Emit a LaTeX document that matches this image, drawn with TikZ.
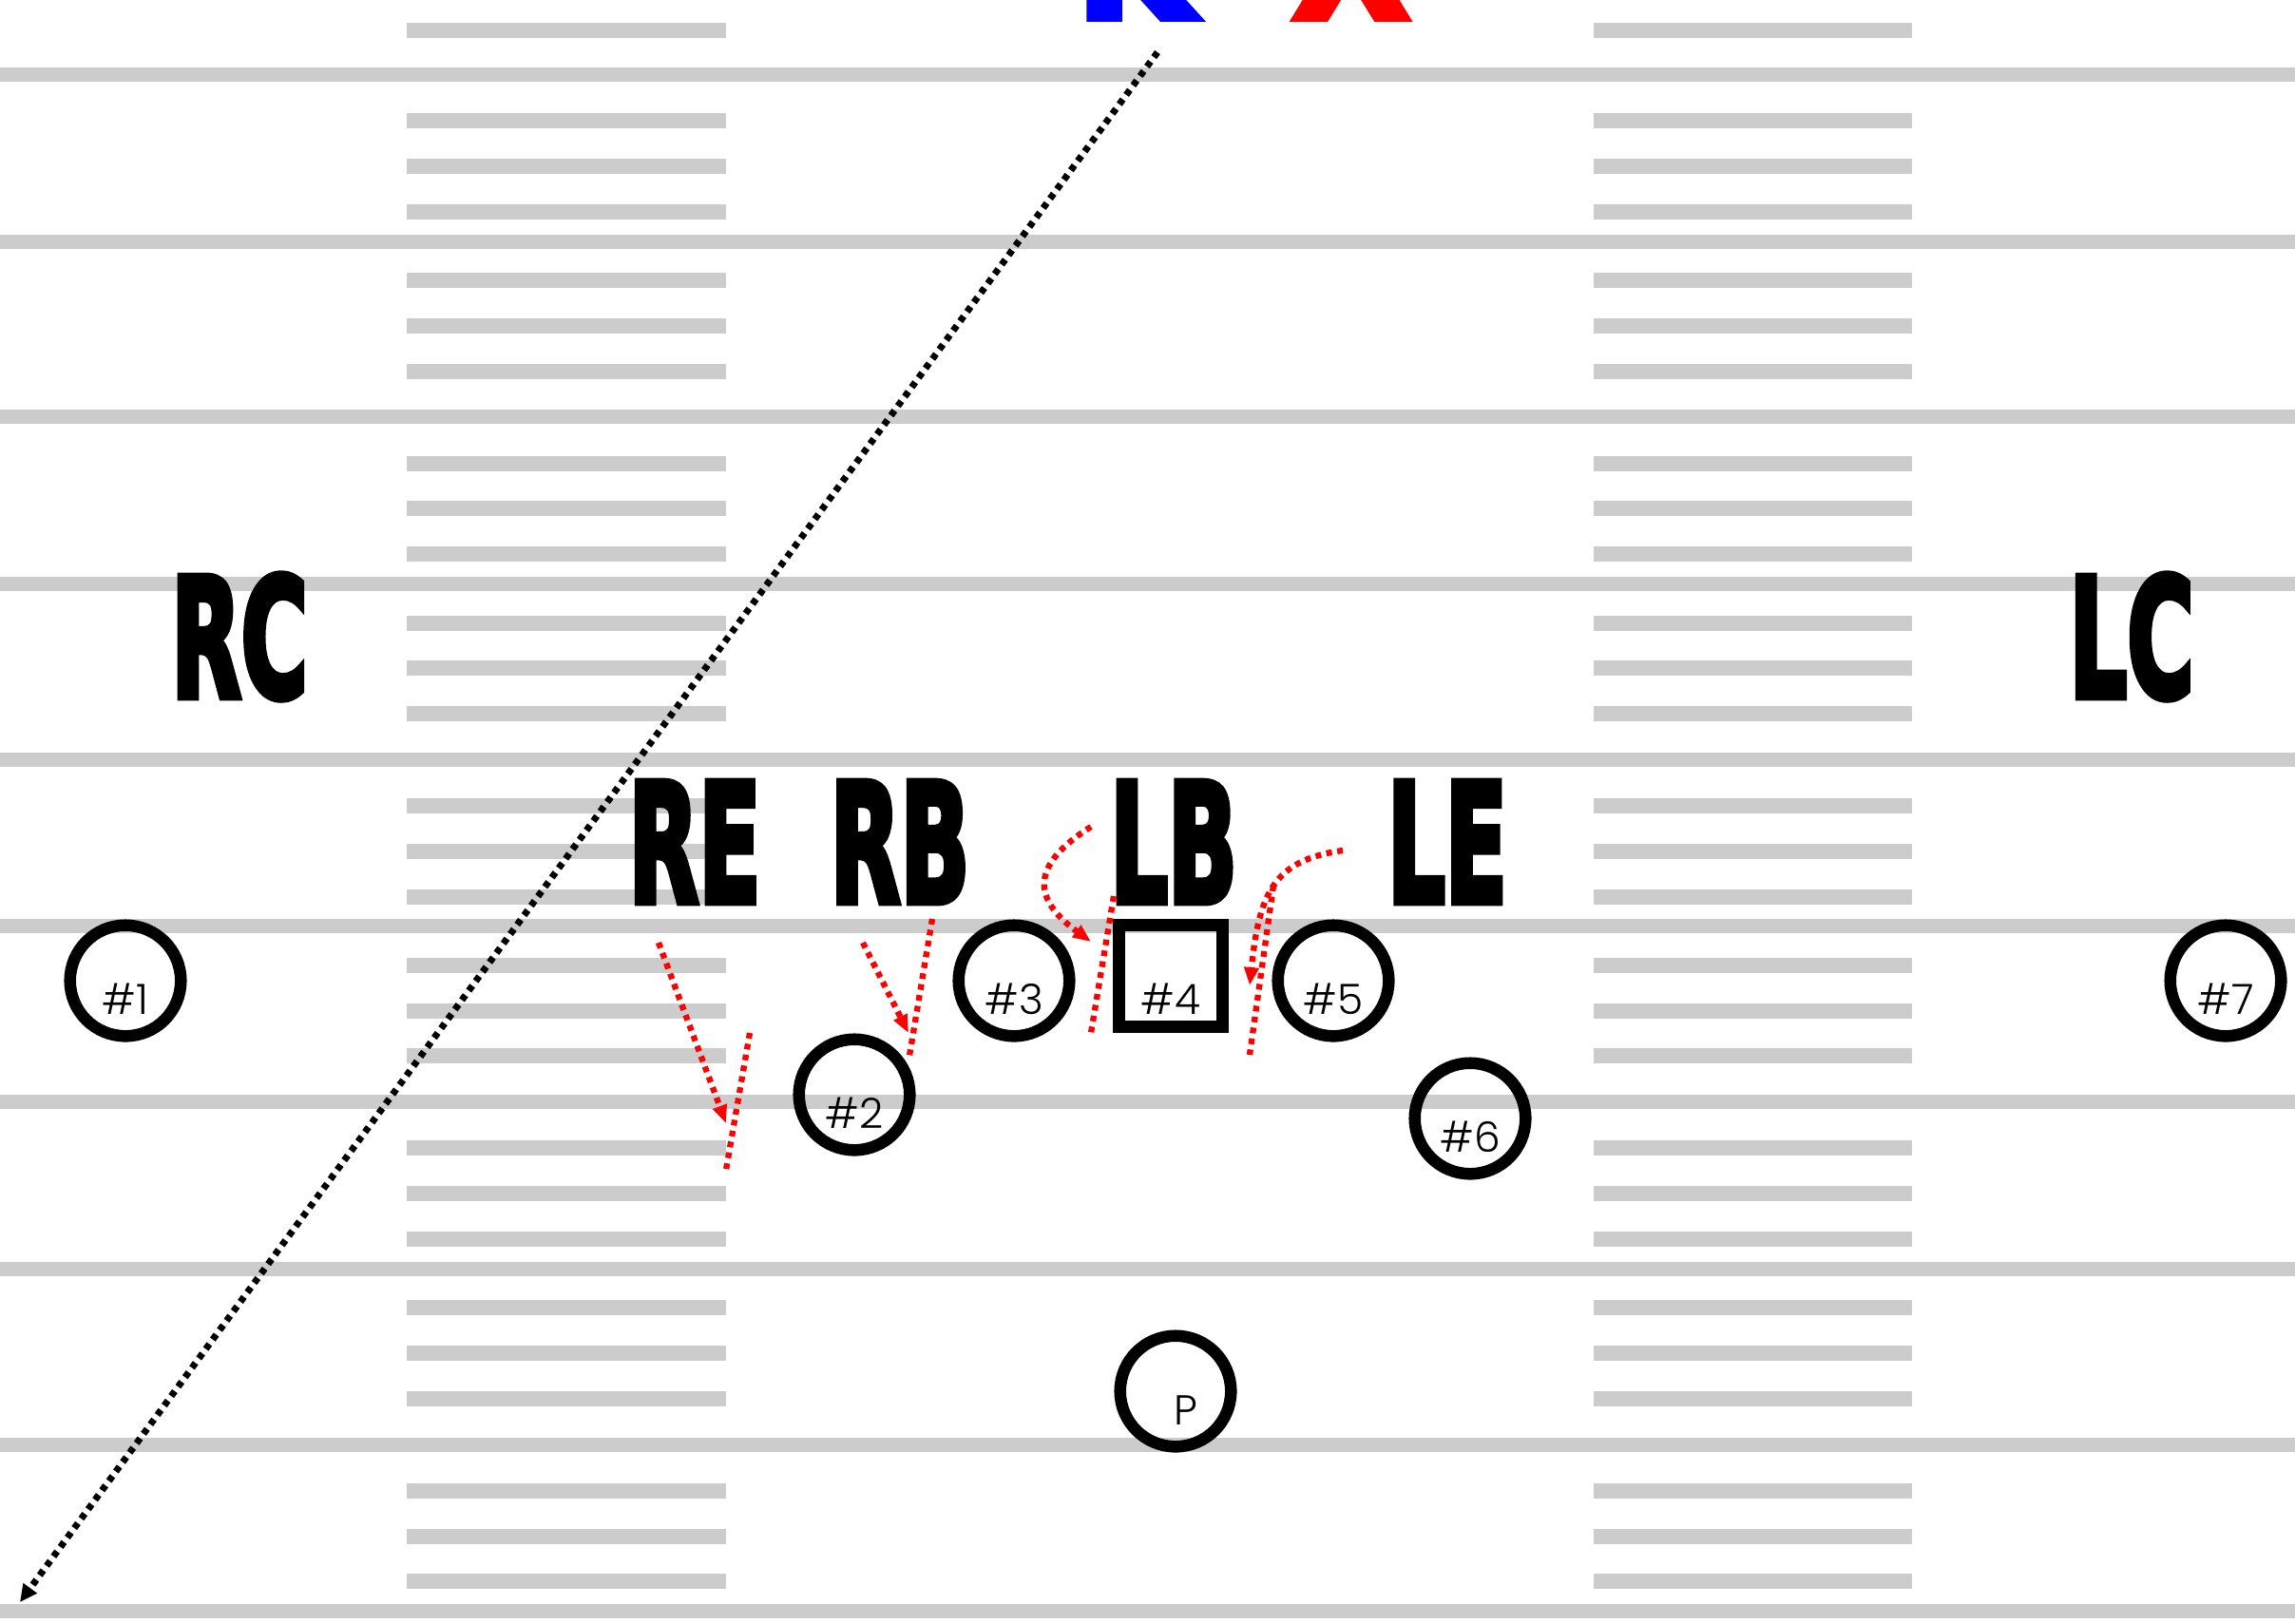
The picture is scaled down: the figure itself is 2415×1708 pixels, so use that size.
\documentclass[tikz,border=0pt]{standalone}
\usepackage{fontspec}
\usetikzlibrary{arrows.meta}
\newfontfamily\labfont{DejaVu Sans Condensed Bold}[FakeBold=4.5]
\newfontfamily\numfont{Poppins Light}
\definecolor{fieldgray}{HTML}{CCCCCC}
\definecolor{routered}{HTML}{FF0000}
\definecolor{kblue}{HTML}{0000FF}
\begin{document}
\begin{tikzpicture}[x=0.01cm,y=-0.01cm,
  yard/.style={fill=fieldgray},
  player/.style={circle,draw=black,line width=3.56pt,minimum size=1.165cm,inner sep=0pt,font=\numfont\fontsize{12.5}{12.5}\selectfont},
  snapper/.style={rectangle,draw=black,line width=3.7pt,minimum width=1.09cm,minimum height=1.07cm,inner sep=0pt,font=\numfont\fontsize{12.5}{12.5}\selectfont},
  poslabel/.style={font=\labfont\fontsize{49.5}{49.5}\selectfont,xscale=0.61,inner sep=0pt},
  toplabel/.style={font=\labfont\fontsize{50}{50}\selectfont,inner sep=0pt,anchor=base west},
  rush/.style={draw=routered,line width=1.8pt,dash pattern=on 1.7pt off 1.6pt,-{Triangle[length=5.4pt,width=4.2pt]}},
  lane/.style={draw=routered,line width=1.8pt,dash pattern=on 1.7pt off 1.6pt},
  kick/.style={draw=black,line width=2pt,dash pattern=on 1.8pt off 1.7pt,-{Triangle[length=5.2pt,width=4.8pt]}}
]
\useasboundingbox (0,0) rectangle (2415,1708);
\clip (0,0) rectangle (2415,1708);
\fill[white] (0,0) rectangle (2415,1708);
% yard lines
\foreach \y in {78,254,438,614,799,974,1159,1335,1520,1695}
  \fill[yard] (0,\y-7.5) rectangle (2415,\y+7.5);
% hash marks
\foreach \y in {32,127,175,223,295,343,391,488,535,583,656,703,751,848,896,944,1016,1064,1111,1208,1256,1304,1376,1424,1472,1569,1617,1664}{
  \fill[yard] (428,\y-8) rectangle (764,\y+8);
  \fill[yard] (1677,\y-8) rectangle (2012,\y+8);
}
% top letters
\node[toplabel,text=kblue] (k) at (1132,19) {K};
\node[toplabel,text=routered] (x) at (1360,19) {X};
% position labels
\node[poslabel] (rc) at (252,670) {RC};
\node[poslabel] (lc) at (2243,670) {LC};
\node[poslabel] (re) at (731,886) {RE};
\node[poslabel] (rb) at (947,886) {RB};
\node[poslabel] (lb) at (1235,886) {LB};
\node[poslabel] (le) at (1523,886) {LE};
% players
\node[player] (p1) at (132,1032) {\raisebox{-0.35cm}[0pt][0pt]{\#1}};
\node[player] (p2) at (899,1152) {\raisebox{-0.35cm}[0pt][0pt]{\#2}};
\node[player] (p3) at (1067,1032) {\raisebox{-0.35cm}[0pt][0pt]{\#3}};
\node[snapper] (p4) at (1232,1027) {\raisebox{-0.40cm}[0pt][0pt]{\#4}};
\node[player] (p5) at (1403,1032) {\raisebox{-0.35cm}[0pt][0pt]{\#5}};
\node[player] (p6) at (1547,1177) {\raisebox{-0.35cm}[0pt][0pt]{\#6}};
\node[player] (p7) at (2342,1032) {\raisebox{-0.35cm}[0pt][0pt]{\#7}};
\node[player] (pp) at (1237,1464) {\raisebox{-0.35cm}[0pt][0pt]{\hspace*{0.22cm}P}};
% kick path
\coordinate (kickstart) at (1218,55);
\coordinate (kickend) at (21,1686);
\draw[kick] (kickstart) -- (kickend);
% rush routes
\coordinate (reA) at (693,992);  \coordinate (reB) at (764,1182);
\coordinate (reC) at (789,1087); \coordinate (reD) at (764,1231);
\coordinate (rbA) at (908,992);  \coordinate (rbB) at (956,1087);
\coordinate (rbC) at (981,967);  \coordinate (rbD) at (957,1111);
\coordinate (lbA) at (1148,870); \coordinate (lbB) at (1148,991);
\coordinate (lbC) at (1172,943); \coordinate (lbD) at (1148,1087);
\coordinate (leA) at (1413,895); \coordinate (leB) at (1315,1037);
\coordinate (leC) at (1340,932); \coordinate (leD) at (1315,1110);
\draw[rush] (reA) -- (reB);
\draw[lane] (reC) -- (reD);
\draw[rush] (rbA) -- (rbB);
\draw[lane] (rbC) -- (rbD);
\draw[rush] (lbA) .. controls (1085,910) and (1085,945) .. (lbB);
\draw[lane] (lbC) -- (lbD);
\draw[rush] (leA) .. controls (1340,905) and (1325,940) .. (leB);
\draw[lane] (leC) -- (leD);
\end{tikzpicture}
\end{document}
